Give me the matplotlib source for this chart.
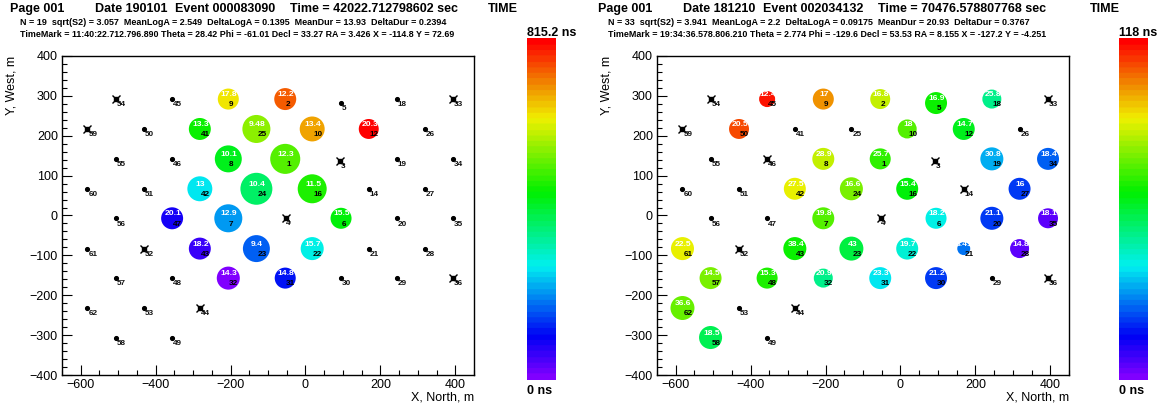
import numpy as np
import matplotlib
matplotlib.use('Agg')
import matplotlib.pyplot as plt
from matplotlib.colors import LinearSegmentedColormap, Normalize

plt.rcParams['font.family'] = ['Liberation Sans', 'DejaVu Sans']

W, H = 1161, 408

# ---------------- station layout (m) ----------------
station_id = [1, 2, 3, 4, 5, 6, 7, 8, 9, 10, 12, 14, 16, 18, 19, 20, 21, 22, 23, 24,
              25, 26, 27, 28, 29, 30, 31, 32, 33, 34, 35, 36, 41, 42, 43, 44, 45, 46,
              47, 48, 49, 50, 51, 52, 53, 54, 55, 56, 57, 58, 59, 60, 61, 62]
station_x = [-54, -54, 93, -53, 95, 95, -206, -206, -206, 18, 169, 169, 18, 244, 244, 244,
             169, 18, -131, -131, -131, 318, 318, 318, 244, 95, -54, -206, 394, 394, 394, 394,
             -282, -282, -282, -282, -356, -356, -356, -356, -356, -431, -431, -431, -431,
             -507, -507, -507, -507, -507, -582, -582, -582, -582]
station_y = [142, 292, 137, -6, 282, -7, -7, 142, 292, 217, 217, 67, 67, 292, 142, -7,
             -83, -83, -83, 67, 217, 217, 67, -83, -157, -157, -157, -157, 292, 142, -7, -157,
             217, 67, -83, -232, 292, 142, -7, -157, -306, 217, 67, -83, -232,
             292, 142, -7, -157, -306, 217, 67, -83, -232]

# ---------------- event 1 ----------------
ev1_title = ["Page 001", "Date 190101", "Event 000083090", "Time = 42022.712798602 sec"]
ev1_line2 = "N = 19  sqrt(S2) = 3.057  MeanLogA = 2.549  DeltaLogA = 0.1395  MeanDur = 13.93  DeltaDur = 0.2394"
ev1_line3 = "TimeMark = 11:40:22.712.796.890 Theta = 28.42 Phi = -61.01 Decl = 33.27 RA = 3.426 X = -114.8 Y = 72.69"
ev1_tmax = 815.2
ev1_hit = [9, 2, 41, 25, 10, 12, 8, 1, 42, 24, 16, 47, 7, 6, 43, 23, 22, 32, 31]
ev1_dur = [17.8, 12.2, 13.3, 9.48, 13.4, 20.3, 10.1, 12.3, 13, 10.4, 11.5, 20.1, 12.9, 15.5,
           18.2, 9.4, 15.7, 14.3, 14.8]
ev1_time = [625, 740, 455, 555, 690, 805, 432, 505, 262, 378, 470, 95, 212, 440,
            55, 165, 272, 5, 118]
ev1_logA = [2.19, 2.29, 2.29, 2.92, 2.60, 2.08, 2.81, 3.13, 2.60, 3.33, 3.02, 2.29, 2.92,
            2.19, 2.29, 2.81, 2.40, 2.40, 2.19]
ev1_off = [54, 59, 3, 4, 52, 44, 33, 36]

# ---------------- event 2 ----------------
ev2_title = ["Page 001", "Date 181210", "Event 002034132", "Time = 70476.578807768 sec"]
ev2_line2 = "N = 33  sqrt(S2) = 3.941  MeanLogA = 2.2  DeltaLogA = 0.09175  MeanDur = 20.93  DeltaDur = 0.3767"
ev2_line3 = "TimeMark = 19:34:36.578.806.210 Theta = 2.774 Phi = -129.6 Decl = 53.53 RA = 8.155 X = -127.2 Y = -4.251"
ev2_tmax = 118
ev2_hit = [45, 9, 2, 5, 18, 50, 10, 12, 8, 1, 19, 34, 42, 24, 16, 27, 7, 6, 20, 35,
           61, 43, 23, 22, 21, 28, 57, 48, 32, 31, 30, 62, 58]
ev2_dur = [12.4, 17, 16.8, 16.9, 25.8, 20.5, 18, 14.7, 28.9, 25.7, 30.8, 18.4, 27.5, 16.6,
           15.4, 16, 19.8, 18.2, 21.1, 18.1, 22.5, 38.4, 43, 19.7, 3.41, 14.8, 14.5, 15.3,
           20.9, 23.3, 21.2, 36.6, 18.5]
ev2_time = [115, 101, 86, 65, 50, 110, 73, 61, 85, 70, 33, 25, 89, 78,
            63, 20, 73, 40, 20, 4, 90, 65, 58, 42, 26, 5, 77, 67,
            50, 39, 21, 75, 56]
ev2_logA = [1.67, 2.19, 2.08, 2.29, 1.98, 2.08, 1.98, 2.29, 2.29, 2.19, 2.40, 2.29, 2.29, 2.40,
            2.29, 2.29, 2.29, 2.19, 2.40, 2.08, 2.40, 2.40, 2.50, 2.29, 1.35, 1.98, 2.29, 2.19,
            1.98, 2.29, 2.29, 2.50, 2.40]
ev2_off = [54, 59, 46, 3, 4, 14, 52, 44, 33, 36]

# ROOT-like rainbow palette
cmap = LinearSegmentedColormap.from_list(
    'rootrainbow',
    [(0.0, '#8000ff'), (0.12, '#0000f5'), (0.33, '#00f0f0'), (0.55, '#00f000'),
     (0.77, '#f0f000'), (0.87, '#f08c00'), (1.0, '#ff0000')], N=60)


def fx(px):
    return px / W


def fy(py):
    return 1 - py / H


fig = plt.figure(figsize=(W / 100, H / 100), dpi=100)


def panel(dx, title, line2, line3, tmax, hit, dur, tns, logA, off, dx_axes, dx_cbar, dx_time):
    ax = fig.add_axes([fx(62 + dx_axes), fy(375), fx(412), 319 / H])
    ax.set_xlim(-650, 450)
    ax.set_ylim(-400, 400)
    ax.set_xticks([-600, -400, -200, 0, 200, 400])
    ax.set_xticks(np.arange(-650, 451, 50), minor=True)
    ax.set_yticks(np.arange(-400, 401, 100))
    ax.set_yticks(np.arange(-400, 401, 20), minor=True)
    ax.tick_params(which='both', direction='in', top=False, right=False, labelsize=9,
                   width=0.8, color='k')
    ax.tick_params(which='major', length=7)
    ax.tick_params(which='minor', length=3.3)
    ax.tick_params(axis='y', pad=3)
    ax.tick_params(axis='x', pad=3)
    for s in ax.spines.values():
        s.set_linewidth(1.0)
    ax.set_xlabel('X, North, m', fontsize=9, loc='right', labelpad=0)
    ax.set_ylabel('Y, West, m', fontsize=9, loc='top', labelpad=9)

    norm = Normalize(0, tmax)
    pos = dict(zip(station_id, zip(station_x, station_y)))
    for sid in station_id:
        if sid in hit:
            continue
        x, y = pos[sid]
        if sid in off:
            ax.plot([x], [y], marker='x', ms=6.0, mew=1.0, color='k', ls='none')
            ax.plot([x], [y], marker='s', ms=2.6, color='k', ls='none')
        else:
            ax.plot([x], [y], marker='o', ms=2.7, color='k', ls='none')
        ax.annotate(str(sid), (x, y), xytext=(0.6, -1.6), textcoords='offset points',
                    ha='left', va='top', fontsize=5.9, fontweight='bold', color='#111111')
    for sid, d, t, a in zip(hit, dur, tns, logA):
        x, y = pos[sid]
        dpx = 9.6 * a
        ax.scatter([x], [y], s=(dpx * 0.72) ** 2, c=[t], cmap=cmap, norm=norm,
                   edgecolors='none', zorder=3)
        ax.annotate('%.3g' % d, (x, y), xytext=(0.6, 0.6), textcoords='offset points',
                    ha='center', va='bottom', fontsize=6.1, fontweight='bold',
                    color='white', zorder=4)
        ax.annotate(str(sid), (x, y), xytext=(0.6, -1.6), textcoords='offset points',
                    ha='left', va='top', fontsize=5.9, fontweight='bold',
                    color='black', zorder=4)

    # colour bar
    cax = fig.add_axes([fx(527 + dx_cbar), fy(380), fx(29), 342 / H])
    grad = np.linspace(0, tmax, 256).reshape(-1, 1)
    cax.imshow(grad, aspect='auto', cmap=cmap, norm=norm, origin='lower',
               extent=[0, 1, 0, tmax])
    cax.set_xticks([])
    cax.set_yticks([])
    for s in cax.spines.values():
        s.set_visible(False)
    fig.text(fx(527 + dx_cbar), fy(36), '%g ns' % tmax, fontsize=9, fontweight='bold',
             ha='left', va='baseline')
    fig.text(fx(527 + dx_cbar), fy(394), '0 ns', fontsize=9, fontweight='bold',
             ha='left', va='baseline')

    # header
    xs = [10, 95, 175, 290]
    for s, x in zip(title, xs):
        fig.text(fx(x + dx), fy(12), s, fontsize=9, fontweight='bold', ha='left', va='baseline')
    fig.text(fx(488 + dx_time), fy(12), 'TIME', fontsize=9, fontweight='bold', ha='left',
             va='baseline')
    fig.text(fx(20 + dx), fy(25), line2, fontsize=6.45, fontweight='bold', ha='left', va='baseline')
    fig.text(fx(20 + dx), fy(37), line3, fontsize=6.4, fontweight='bold', ha='left', va='baseline')


panel(0, ev1_title, ev1_line2, ev1_line3, ev1_tmax, ev1_hit, ev1_dur, ev1_time, ev1_logA,
      ev1_off, 0, 0, 0)
panel(588, ev2_title, ev2_line2, ev2_line3, ev2_tmax, ev2_hit, ev2_dur, ev2_time, ev2_logA,
      ev2_off, 595, 592, 602)

fig.savefig('out.png', dpi=100)
